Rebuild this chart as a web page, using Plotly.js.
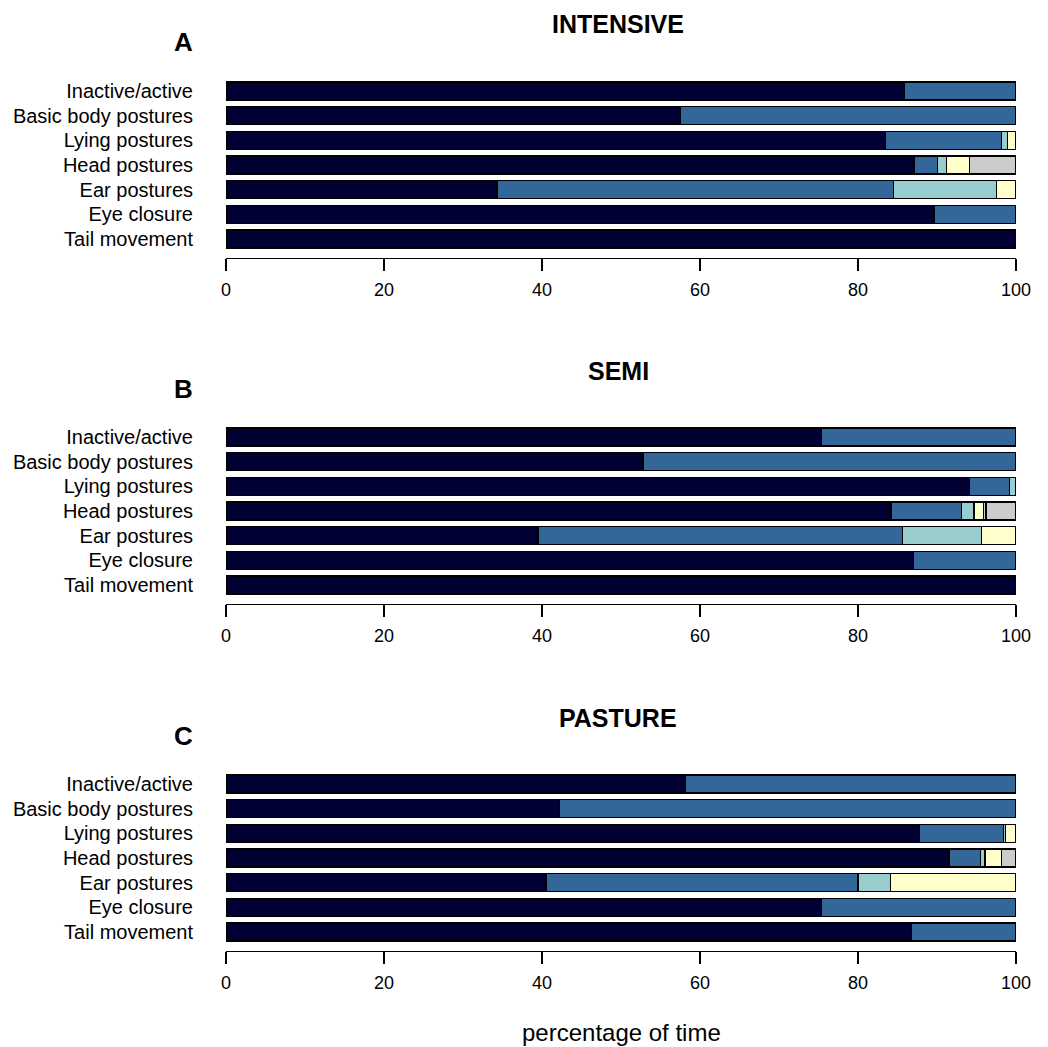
<!DOCTYPE html>
<html>
<head>
<meta charset="utf-8">
<script src="https://cdn.plot.ly/plotly-3.0.1.min.js"></script>
<style>html,body{margin:0;padding:0;background:#fff;}#chart{width:1048px;height:1047px;}</style>
</head>
<body>
<div id="chart"></div>
<script>
// Rows, top to bottom
const rowLabels = ["Inactive/active", "Basic body postures", "Lying postures", "Head postures", "Ear postures", "Eye closure", "Tail movement"];
const panelTitles = ["INTENSIVE", "SEMI", "PASTURE"];
const panelLetters = ["A", "B", "C"];
const xTicks = [0, 20, 40, 60, 80, 100];

// Segment widths (percentage of time), per category, per row (null = no segment)
// INTENSIVE
const intDark   = [85.9, 57.5, 83.5, 87.1, 34.3, 89.7, 100];
const intBlue   = [14.1, 42.5, 14.7, 3.0, 50.2, 10.3, null];
const intTeal   = [null, null, 0.7, 1.1, 13.0, null, null];
const intYellow = [null, null, 1.1, 2.9, 2.5, null, null];
const intExtra  = [null, null, null, null, null, null, null];
const intGray   = [null, null, null, 5.9, null, null, null];
// SEMI
const semDark   = [75.4, 52.8, 94.1, 84.2, 39.5, 87.0, 100];
const semBlue   = [24.6, 47.2, 5.1, 8.9, 46.1, 13.0, null];
const semTeal   = [null, null, 0.8, 1.6, 10.0, null, null];
const semYellow = [null, null, null, 1.2, 4.4, null, null];
const semExtra  = [null, null, null, 0.3, null, null, null];
const semGray   = [null, null, null, 3.8, null, null, null];
// PASTURE
const pasDark   = [58.2, 42.2, 87.8, 91.5, 40.5, 75.4, 86.8];
const pasBlue   = [41.8, 57.8, 10.6, 4.0, 39.5, 24.6, 13.2];
const pasTeal   = [null, null, 0.3, 0.6, 4.1, null, null];
const pasYellow = [null, null, 1.3, 2.1, 15.9, null, null];
const pasExtra  = [null, null, null, null, null, null, null];
const pasGray   = [null, null, null, 1.8, null, null, null];

const colors = ["#000033", "#336699", "#99CCCC", "#FFFFCC", "#CCCCCC", "#CCCCCC"];
const panels = [
  [intDark, intBlue, intTeal, intYellow, intExtra, intGray],
  [semDark, semBlue, semTeal, semYellow, semExtra, semGray],
  [pasDark, pasBlue, pasTeal, pasYellow, pasExtra, pasGray]
];

const FONT = '"Liberation Sans", Arial, Helvetica, sans-serif';
const W = 1048, H = 1047;
const rowPos = rowLabels.map((_, i) => rowLabels.length - 1 - i);

const traces = [];
panels.forEach((series, p) => {
  const ax = p === 0 ? '' : String(p + 1);
  series.forEach((vals, c) => {
    traces.push({
      type: 'bar', orientation: 'h',
      x: vals, y: rowPos,
      xaxis: 'x' + ax, yaxis: 'y' + ax,
      marker: {color: colors[c], line: {color: '#000000', width: 1.4}},
      hoverinfo: 'x', showlegend: false
    });
  });
});

// pixel layout of each panel (top of row band, axis line)
const panelTop = [78.7, 424.7, 771.7];
const panelBottom = [258, 604, 951];
const xDom = [226 / W, 1016 / W];

const layout = {
  width: W, height: H,
  margin: {l: 0, r: 0, t: 0, b: 0},
  paper_bgcolor: '#ffffff', plot_bgcolor: '#ffffff',
  barmode: 'stack', bargap: 0.27,
  font: {family: FONT, color: '#000000'},
  annotations: [],
  showlegend: false
};

panelTitles.forEach((t, p) => {
  const ax = p === 0 ? '' : String(p + 1);
  layout['xaxis' + ax] = {
    domain: xDom, range: [0, 100], anchor: 'y' + ax,
    showline: true, linecolor: '#000000', linewidth: 1.3,
    ticks: 'outside', ticklen: 12, tickwidth: 1.3, tickcolor: '#000000',
    tickvals: xTicks, ticktext: xTicks.map(String),
    tickfont: {size: 18, family: FONT, color: '#000000'},
    ticklabelstandoff: 3,
    showgrid: false, zeroline: false, fixedrange: true
  };
  layout['yaxis' + ax] = {
    domain: [1 - panelBottom[p] / H, 1 - panelTop[p] / H],
    range: [-0.77, 6.5], anchor: 'x' + ax,
    tickvals: rowPos, ticktext: rowLabels,
    tickfont: {size: 20, family: FONT, color: '#000000'},
    ticks: '', showline: false, showgrid: false, zeroline: false,
    ticklabelstandoff: 32, fixedrange: true
  };
  const offset = [0, 347, 694][p];
  layout.annotations.push({
    text: '<b>' + t + '</b>', xref: 'paper', yref: 'paper',
    x: 618 / W, y: 1 - (24 + offset) / H, xanchor: 'center', yanchor: 'middle',
    showarrow: false, font: {size: 25, family: FONT, color: '#000000'}
  });
  layout.annotations.push({
    text: '<b>' + panelLetters[p] + '</b>', xref: 'paper', yref: 'paper',
    x: 183 / W, y: 1 - (42 + offset) / H, xanchor: 'center', yanchor: 'middle',
    showarrow: false, font: {size: 26, family: FONT, color: '#000000'}
  });
});

layout.annotations.push({
  text: 'percentage of time', xref: 'paper', yref: 'paper',
  x: 621 / W, y: 1 - 1032 / H, xanchor: 'center', yanchor: 'middle',
  showarrow: false, font: {size: 24, family: FONT, color: '#000000'}
});

Plotly.newPlot('chart', traces, layout, {displayModeBar: false, staticPlot: true});
</script>
</body>
</html>
